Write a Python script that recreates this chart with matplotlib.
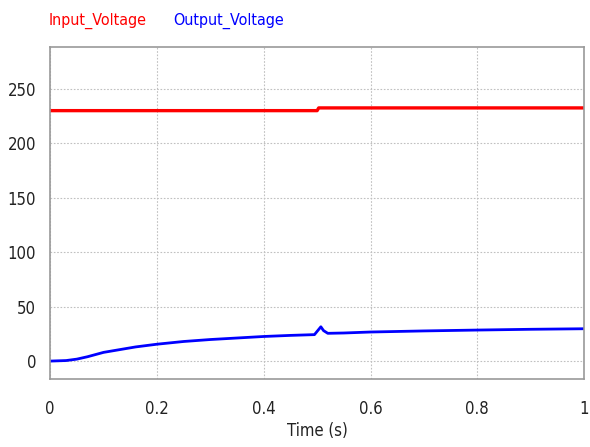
import matplotlib
matplotlib.use("Agg")
import matplotlib.pyplot as plt

plt.rcParams['font.family'] = ['DejaVu Sans']
plt.rcParams['font.stretch'] = 'condensed'

# 波形數據
t_in = [0.0, 0.5, 0.503, 1.0]
v_in = [230.0, 230.0, 232.5, 232.5]

t_out = [0.0, 0.03, 0.05, 0.07, 0.1, 0.13, 0.16, 0.2, 0.25, 0.3, 0.35, 0.4, 0.45,
         0.495, 0.502, 0.507, 0.512, 0.52, 0.55, 0.6, 0.65, 0.7, 0.8, 0.9, 1.0]
v_out = [0.0, 0.5, 1.8, 4.0, 8.0, 10.5, 13.0, 15.5, 18.0, 19.8, 21.2, 22.6, 23.6,
         24.3, 28.5, 31.5, 28.0, 25.5, 25.8, 26.7, 27.2, 27.7, 28.5, 29.2, 29.7]

xticks = [0, 0.2, 0.4, 0.6, 0.8, 1]
xticklabels = ["0", "0.2", "0.4", "0.6", "0.8", "1"]
yticks = [0, 50, 100, 150, 200, 250]

fig = plt.figure(figsize=(5.9, 4.47), dpi=100)
ax = fig.add_axes([0.085, 0.152, 0.905, 0.743])

ax.plot(t_in, v_in, color="#ff0000", linewidth=2.4, solid_capstyle="butt")
ax.plot(t_out, v_out, color="#0000ff", linewidth=2.0, solid_capstyle="butt")

ax.set_xlim(0, 1)
ax.set_ylim(-16.5, 288.5)
ax.set_xticks(xticks)
ax.set_xticklabels(xticklabels)
ax.set_yticks(yticks)
ax.tick_params(length=0, labelsize=12, colors="#222222", pad=15)
ax.tick_params(axis="y", pad=10)
ax.grid(True, linestyle=(0, (1.5, 1.5)), color="#c0c0c0", linewidth=0.8)
for s in ax.spines.values():
    s.set_color("#999999")
    s.set_linewidth(1.2)

ax.set_xlabel("Time (s)", fontsize=12, color="#222222", labelpad=3)

fig.text(0.083, 0.953, "Input_Voltage", color="#ff0000", fontsize=11.5, va="center")
fig.text(0.293, 0.953, "Output_Voltage", color="#0000ff", fontsize=11.5, va="center")

fig.savefig("out.png", dpi=100)
